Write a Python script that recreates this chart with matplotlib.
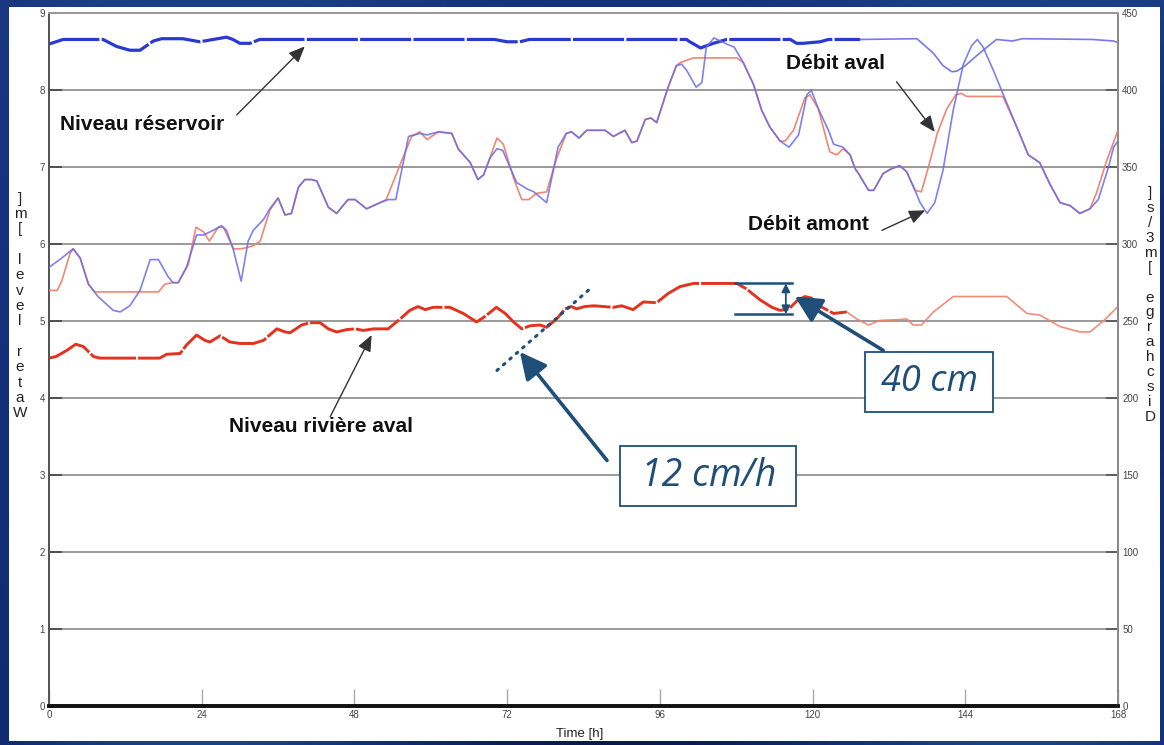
import numpy as np
import matplotlib
matplotlib.use("Agg")
import matplotlib.pyplot as plt
from matplotlib.patches import Rectangle
from matplotlib.colors import LinearSegmentedColormap

# ---------------------------------------------------------------- data
# upstream discharge (Débit amont) [m3/s]
t_amont = [0.0, 1.7, 3.8, 4.9, 6.2, 7.7, 10.1, 11.2, 12.7, 14.3, 15.9, 17.2, 18.7, 19.5,
           20.3, 21.6, 23.2, 24.3, 25.8, 27.1, 27.9, 29.0, 30.2, 31.3, 32.1, 33.7, 34.7,
           36.0, 37.1, 38.1, 39.2, 40.2, 41.3, 42.1, 43.9, 45.2, 47.0, 48.1, 49.9, 51.5,
           53.3, 54.5, 56.5, 58.3, 59.4, 61.2, 63.3, 64.3, 66.2, 67.4, 68.3, 69.3, 70.4,
           71.3, 73.5, 75.1, 76.2, 78.2, 80.0, 81.3, 82.1, 83.3, 84.5, 86.1, 87.4, 88.7,
           90.5, 91.6, 92.4, 93.7, 94.6, 95.5, 97.3, 98.6, 99.4, 100.2, 101.7, 102.6,
           103.3, 104.5, 106.5, 107.7, 109.1, 110.7, 112.0, 113.3, 114.9, 116.3, 117.8,
           119.1, 119.8, 120.9, 122.5, 123.3, 124.8, 125.9, 126.7, 127.2, 128.8, 129.6,
           131.1, 132.4, 133.7, 134.8, 136.1, 136.9, 138.0, 139.2, 140.5, 142.1, 143.7,
           145.0, 145.9, 146.8, 148.4, 150.0, 152.1, 153.9, 155.7, 157.3, 158.9, 160.5,
           162.0, 163.6, 164.9, 166.5, 167.3, 168.0]
q_amont = [285, 290, 297, 291, 274, 266, 257, 256, 260, 270, 290, 290, 279, 275,
           275, 285, 306, 306, 309, 312, 309, 296, 276, 302, 309, 316, 323,
           330, 319, 320, 337, 342, 342, 341, 324, 320, 329, 329, 323, 326,
           329, 329, 370, 372, 371, 373, 372, 362, 353, 342, 345, 356, 362,
           361, 340, 336, 334, 327, 363, 372, 373, 369, 374, 374, 374, 370,
           374, 366, 367, 381, 382, 379, 402, 416, 417, 413, 402, 405,
           428, 434, 430, 428, 418, 404, 387, 376, 367, 363, 371,
           397, 400, 388, 374, 365, 363, 358, 349, 346, 335, 335,
           346, 349, 351, 347, 335, 327, 320, 327, 348, 387, 417,
           429, 433, 428, 413, 397, 376, 358, 353, 339, 327, 325,
           320, 323, 329, 350, 363, 367]

# downstream discharge (Débit aval) [m3/s]
t_aval = [0.0, 1.3, 2.0, 3.3, 3.8, 4.9, 6.2, 7.2, 17.2, 18.2, 19.3, 20.3, 21.9, 23.1,
          24.3, 25.2, 26.6, 27.4, 29.0, 30.2, 31.3, 32.1, 33.2, 34.7, 36.0, 37.1, 38.1,
          39.2, 40.2, 41.3, 42.1, 43.9, 45.2, 47.0, 48.1, 49.9, 51.5, 53.0, 55.4, 57.0,
          58.3, 59.4, 61.2, 63.3, 64.3, 66.2, 67.4, 68.3, 69.3, 70.4, 71.4, 73.0, 74.3,
          75.4, 76.6, 78.2, 79.8, 81.3, 82.1, 83.3, 84.5, 86.1, 87.4, 88.7, 90.5, 91.6,
          92.4, 93.7, 94.6, 95.5, 97.3, 98.6, 99.2, 101.3, 108.1, 109.1, 110.7, 112.0,
          113.3, 114.9, 115.7, 117.0, 118.8, 119.6, 120.9, 122.7, 123.8, 124.8, 125.9,
          126.7, 127.2, 128.8, 129.6, 131.1, 132.4, 133.7, 134.8, 136.1, 137.1, 138.2,
          139.6, 141.1, 142.5, 143.4, 144.2, 149.9, 152.1, 153.9, 155.7, 157.3, 158.9,
          160.5, 162.0, 163.6, 164.6, 166.2, 168.0]
q_aval = [270, 270, 276, 294, 297, 291, 274, 269, 269, 274, 275, 275, 287, 311,
          308, 302, 311, 311, 297, 297, 298, 299, 302, 322, 330, 319, 320,
          337, 342, 342, 341, 324, 320, 329, 329, 323, 326, 329, 354, 370,
          373, 368, 373, 372, 362, 353, 342, 345, 356, 369, 365, 343, 329,
          329, 333, 334, 356, 372, 373, 369, 374, 374, 374, 370, 374, 366,
          367, 381, 382, 379, 402, 416, 418, 421, 421, 418, 404, 387,
          376, 367, 367, 374, 395, 397, 388, 360, 358, 362, 358,
          349, 346, 335, 335, 346, 349, 351, 347, 335, 334, 350,
          372, 388, 397, 398, 396, 396, 376, 358, 353, 339, 327,
          325, 320, 323, 333, 354, 374]

# reservoir level (Niveau réservoir) [m] : measured, then forecast
t_res_obs = [0.0, 2.2, 8.5, 10.6, 12.7, 14.3, 16.4, 17.7, 21.0, 23.7, 25.8, 27.9, 28.9,
             30.0, 31.6, 33.1, 70.0, 72.0, 74.0, 75.5, 100.2, 100.7, 102.4, 104.4,
             106.5, 116.5, 117.5, 118.5, 121.2, 122.5, 127.5]
h_res_obs = [8.60, 8.66, 8.66, 8.57, 8.52, 8.52, 8.64, 8.67, 8.67, 8.63, 8.66, 8.69, 8.66,
             8.61, 8.61, 8.66, 8.66, 8.63, 8.63, 8.66, 8.66, 8.63, 8.55, 8.61,
             8.66, 8.66, 8.61, 8.61, 8.63, 8.66, 8.66]
t_res_fc = [127.5, 136.4, 139.0, 140.5, 141.9, 142.7, 144.0, 145.8, 147.4, 148.9, 151.4,
            153.0, 164.0, 167.3, 168.0]
h_res_fc = [8.66, 8.67, 8.48, 8.32, 8.24, 8.25, 8.32, 8.45, 8.56, 8.66, 8.64,
            8.67, 8.66, 8.64, 8.62]

# downstream river level (Niveau rivière aval) [m] : measured, then forecast
t_riv_obs = [0.0, 1.1, 2.8, 4.2, 5.4, 7.0, 8.0, 17.4, 18.5, 20.6, 21.6, 23.2, 24.5, 25.3,
             26.9, 28.4, 30.0, 32.1, 33.7, 35.8, 37.1, 37.9, 39.7, 41.0, 42.6, 43.9,
             45.2, 46.8, 48.1, 49.4, 51.0, 53.3, 55.2, 56.7, 58.0, 59.1, 60.4, 63.0,
             65.1, 67.2, 68.5, 70.3, 71.7, 73.0, 74.3, 75.6, 77.2, 78.2, 79.8, 81.1,
             82.1, 82.9, 84.2, 85.6, 88.7, 90.0, 91.8, 93.4, 95.5, 97.3, 99.2, 101.3,
             108.1, 109.6, 111.7, 113.6, 114.9, 116.3, 117.5, 118.8, 119.8, 121.5,
             123.3, 125.4]
h_riv_obs = [4.52, 4.54, 4.62, 4.70, 4.67, 4.54, 4.52, 4.52, 4.57, 4.58, 4.69, 4.82, 4.75, 4.73,
             4.81, 4.73, 4.71, 4.71, 4.75, 4.90, 4.86, 4.85, 4.95, 4.98, 4.98, 4.90,
             4.86, 4.89, 4.90, 4.88, 4.90, 4.90, 5.03, 5.14, 5.19, 5.15, 5.18, 5.18,
             5.10, 4.99, 5.06, 5.18, 5.10, 4.99, 4.90, 4.94, 4.95, 4.92, 5.03, 5.16,
             5.19, 5.16, 5.19, 5.20, 5.18, 5.20, 5.15, 5.25, 5.24, 5.36, 5.45, 5.49,
             5.49, 5.42, 5.28, 5.18, 5.14, 5.16, 5.26, 5.32, 5.30, 5.18,
             5.10, 5.12]
t_riv_fc = [125.4, 126.9, 128.8, 130.6, 133.7, 134.8, 135.8, 137.1, 139.0, 142.1, 150.5,
            153.7, 155.7, 158.9, 162.0, 163.6, 165.8, 168.0]
h_riv_fc = [5.12, 5.03, 4.95, 5.01, 5.02, 5.03, 4.95, 4.95, 5.12, 5.32, 5.32,
            5.10, 5.08, 4.93, 4.86, 4.86, 5.01, 5.19]

x_ticks = [0, 24, 48, 72, 96, 120, 144, 168]
level_ticks = list(range(0, 10))
flow_ticks = list(range(0, 451, 50))

# annotation values
rise_rate_label = "12 cm/h"
drop_cm = 40
peak_level = 5.49

# ---------------------------------------------------------------- style
W, H = 1164, 745
NAVY = "#1f4e79"
C_RES = "#2a3ad0"
C_AMONT = "#6a6aea"
C_RIV = "#e4321e"
C_AVAL = "#f0806c"
plt.rcParams["font.family"] = ["Liberation Sans", "DejaVu Sans"]

fig = plt.figure(figsize=(W / 100, H / 100), dpi=100)
fig.patch.set_facecolor("#0a1a52")

# slide backdrop
bg = fig.add_axes([0, 0, 1, 1], zorder=-10)
gx, gy = np.meshgrid(np.linspace(0, 1, 300), np.linspace(0, 1, 200))
shade = 0.5 + 0.3 * np.sin(gx * 9.0) * np.cos(gy * 5.0) + 0.2 * gy
navy_map = LinearSegmentedColormap.from_list("slide", ["#050f3c", "#13307a", "#3a5ea8"])
bg.imshow(shade, cmap=navy_map, vmin=0.0, vmax=1.2, aspect="auto",
          extent=[0, 1, 0, 1], origin="lower")
bg.set_axis_off()
fig.add_artist(Rectangle((9 / W, 1 - 741 / H), (1160 - 9) / W, (741 - 7) / H,
                         transform=fig.transFigure, facecolor="white",
                         edgecolor="none", zorder=-5))

ax = fig.add_axes([49 / W, 1 - 706 / H, (1118 - 49) / W, (706 - 13.3) / H])
ax.set_facecolor("white")
ax2 = ax.twinx()

ax.set_xlim(0, 168)
ax.set_ylim(0, 9)
ax2.set_ylim(0, 450)

# grid
for v in level_ticks[1:]:
    ax.axhline(v, color="#9a9a9a", lw=1.4, zorder=0)

# spines and ticks
for a in (ax, ax2):
    a.spines["top"].set_color("#9a9a9a")
    a.spines["top"].set_linewidth(1.4)
    a.spines["bottom"].set_color("#111111")
    a.spines["bottom"].set_linewidth(2.6)
    a.spines["left"].set_color("#555555")
    a.spines["left"].set_linewidth(1.4)
    a.spines["right"].set_color("#8a8a8a")
    a.spines["right"].set_linewidth(1.4)

ax.set_xticks(x_ticks)
ax.set_xticklabels([str(t) for t in x_ticks])
ax.set_yticks(level_ticks)
ax.set_yticklabels([str(t) for t in level_ticks])
ax2.set_yticks(flow_ticks)
ax2.set_yticklabels([str(t) for t in flow_ticks])
ax.tick_params(axis="x", direction="in", length=12, width=1, color="#aaaaaa",
               labelsize=7, labelcolor="#444444", pad=3)
ax.tick_params(axis="y", direction="in", length=9, width=1.2, color="#444444",
               labelsize=7, labelcolor="#444444", pad=3)
ax2.tick_params(axis="y", direction="in", length=9, width=1.2, color="#555555",
                labelsize=7, labelcolor="#444444", pad=3)

# stacked axis titles
fig.text(20 / W, 1 - 306 / H, "\n".join(reversed("Water level [m]")), ha="center",
         va="center", fontsize=11, color="#222222", linespacing=1.12)
fig.text(1150 / W, 1 - 305 / H, "\n".join(reversed("Discharge [m3/s]")), ha="center",
         va="center", fontsize=11, color="#222222", linespacing=1.08)
fig.text(580 / W, 1 - 734 / H, "Time [h]", ha="center", va="center",
         fontsize=9.5, color="#222222")

# ---------------------------------------------------------------- series
ax.plot(t_res_obs, h_res_obs, color=C_RES, lw=2.3, dashes=(16, 0.7),
        solid_capstyle="butt", zorder=3)
ax.plot(t_res_fc, h_res_fc, color=C_AMONT, lw=1.2, alpha=0.9, zorder=3)
ax.plot(t_riv_obs, h_riv_obs, color=C_RIV, lw=2.1, dashes=(16, 0.7), zorder=3)
ax.plot(t_riv_fc, h_riv_fc, color=C_AVAL, lw=1.2, alpha=0.9, zorder=3)

ax2.plot(t_aval, q_aval, color=C_AVAL, lw=1.2, alpha=0.95, zorder=3)
ax2.plot(t_amont, q_amont, color=C_AMONT, lw=1.2, alpha=0.85, zorder=4)

# ---------------------------------------------------------------- labels
lab_kw = dict(fontsize=15, fontweight="bold", color="#111111", va="center", ha="left")
arr_kw = dict(arrowstyle="-|>,head_length=0.7,head_width=0.3", color="#333333",
              lw=1.0, mutation_scale=14, shrinkA=0, shrinkB=0)

ax.text(1.7, 7.56, "Niveau réservoir", **lab_kw)
ax.annotate("", xy=(40.2, 8.57), xytext=(29.5, 7.68), arrowprops=arr_kw)

ax.text(115.9, 8.35, "Débit aval", **lab_kw)
ax.annotate("", xy=(139.2, 7.46), xytext=(133.2, 8.11), arrowprops=arr_kw)

ax.text(109.9, 6.25, "Débit amont", **lab_kw)
ax.annotate("", xy=(137.7, 6.44), xytext=(130.9, 6.18), arrowprops=arr_kw)

ax.text(28.3, 3.63, "Niveau rivière aval", **lab_kw)
ax.annotate("", xy=(50.7, 4.82), xytext=(44.2, 3.76), arrowprops=arr_kw)

# rate of rise: dotted guide, arrow and boxed label
ax.plot([70.4, 85.3], [4.36, 5.44], color=NAVY, lw=2.2, linestyle=(0, (0.6, 2.2)),
        dash_capstyle="round", zorder=5)
big_arrow = dict(arrowstyle="-|>,head_length=0.9,head_width=0.45", color=NAVY,
                 lw=2.6, mutation_scale=18, shrinkA=0, shrinkB=0)
ax.annotate("", xy=(74.0, 4.60), xytext=(87.7, 3.19), arrowprops=big_arrow, zorder=6)
ax.add_patch(Rectangle((89.7, 2.597), 117.4 - 89.7, 3.377 - 2.597, facecolor="white",
                       edgecolor=NAVY, lw=1.3, zorder=6))
ax.text(103.6, 2.99, rise_rate_label, ha="center", va="center", fontsize=27,
        style="italic", color=NAVY, family=["Open Sans", "DejaVu Sans"], zorder=7)

# level drop after the peak
low_level = peak_level - drop_cm / 100
ax.plot([107.8, 116.7], [peak_level, peak_level], color=NAVY, lw=1.8, zorder=5)
ax.plot([107.8, 116.7], [low_level, low_level], color=NAVY, lw=1.8, zorder=5)
ax.annotate("", xy=(115.8, peak_level), xytext=(115.8, low_level),
            arrowprops=dict(arrowstyle="<|-|>,head_length=0.5,head_width=0.25",
                            color=NAVY, lw=1.3, mutation_scale=10,
                            shrinkA=0, shrinkB=0), zorder=6)
ax.annotate("", xy=(117.2, 5.32), xytext=(131.1, 4.62), arrowprops=big_arrow, zorder=6)
ax.add_patch(Rectangle((128.2, 3.82), 148.4 - 128.2, 4.60 - 3.82, facecolor="white",
                       edgecolor=NAVY, lw=1.3, zorder=6))
ax.text(138.3, 4.21, f"{drop_cm} cm", ha="center", va="center", fontsize=26,
        style="italic", color=NAVY, family=["Open Sans", "DejaVu Sans"], zorder=7)

fig.savefig("out.png", dpi=100, facecolor=fig.get_facecolor())
